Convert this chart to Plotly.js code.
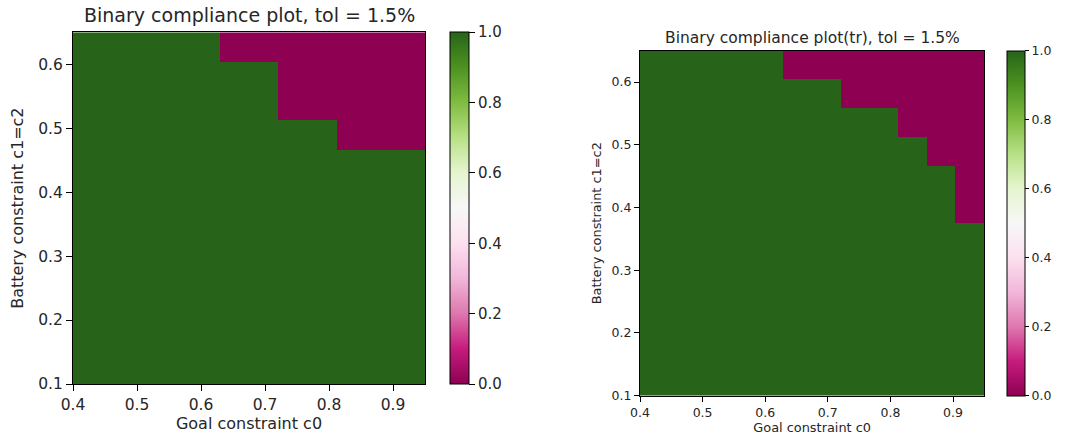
<!DOCTYPE html>
<html>
<head>
<meta charset="utf-8">
<script src="https://cdn.plot.ly/plotly-3.0.1.min.js"></script>
<style>html,body{margin:0;padding:0;background:#fff;}#chart{width:1065px;height:439px;}</style>
</head>
<body>
<div id="chart"></div>
<script>
// Cell centres of the 12 x 12 grid (goal constraint c0, battery constraint c1=c2)
const goalC0 = [0.42292, 0.46875, 0.51458, 0.56042, 0.60625, 0.65208, 0.69792, 0.74375, 0.78958, 0.83542, 0.88125, 0.92708];
const batteryC12 = [0.12292, 0.16875, 0.21458, 0.26042, 0.30625, 0.35208, 0.39792, 0.44375, 0.48958, 0.53542, 0.58125, 0.62708];

// Binary compliance (rows from bottom c1=c2=0.12 to top 0.63)
const complianceLeft = [
  [1,1,1,1,1,1,1,1,1,1,1,1],
  [1,1,1,1,1,1,1,1,1,1,1,1],
  [1,1,1,1,1,1,1,1,1,1,1,1],
  [1,1,1,1,1,1,1,1,1,1,1,1],
  [1,1,1,1,1,1,1,1,1,1,1,1],
  [1,1,1,1,1,1,1,1,1,1,1,1],
  [1,1,1,1,1,1,1,1,1,1,1,1],
  [1,1,1,1,1,1,1,1,1,1,1,1],
  [1,1,1,1,1,1,1,1,1,0,0,0],
  [1,1,1,1,1,1,1,0,0,0,0,0],
  [1,1,1,1,1,1,1,0,0,0,0,0],
  [1,1,1,1,1,0,0,0,0,0,0,0]
];
const complianceRight = [
  [1,1,1,1,1,1,1,1,1,1,1,1],
  [1,1,1,1,1,1,1,1,1,1,1,1],
  [1,1,1,1,1,1,1,1,1,1,1,1],
  [1,1,1,1,1,1,1,1,1,1,1,1],
  [1,1,1,1,1,1,1,1,1,1,1,1],
  [1,1,1,1,1,1,1,1,1,1,1,1],
  [1,1,1,1,1,1,1,1,1,1,1,0],
  [1,1,1,1,1,1,1,1,1,1,1,0],
  [1,1,1,1,1,1,1,1,1,1,0,0],
  [1,1,1,1,1,1,1,1,1,0,0,0],
  [1,1,1,1,1,1,1,0,0,0,0,0],
  [1,1,1,1,1,0,0,0,0,0,0,0]
];

const titleLeft = "Binary compliance plot, tol = 1.5%";
const titleRight = "Binary compliance plot(tr), tol = 1.5%";
const xLabel = "Goal constraint c0";
const yLabel = "Battery constraint c1=c2";
const xTicks = [0.4, 0.5, 0.6, 0.7, 0.8, 0.9];
const yTicks = [0.1, 0.2, 0.3, 0.4, 0.5, 0.6];
const cbTicks = [0.0, 0.2, 0.4, 0.6, 0.8, 1.0];

const PiYG = [
  [0.0,'#8e0152'],[0.1,'#c51b7d'],[0.2,'#de77ae'],[0.3,'#f1b6da'],[0.4,'#fde0ef'],
  [0.5,'#f7f7f7'],[0.6,'#e6f5d0'],[0.7,'#b8e186'],[0.8,'#7fbc41'],[0.9,'#4d9221'],[1.0,'#276419']
];

const W = 1065, H = 439;
const FONT = "DejaVu Sans, sans-serif";
const TXT = '#262626';
const px = v => v / W;
const py = v => 1 - v / H;

// pixel boxes
const L = {x0:73, x1:425, y0:32.3, y1:384, cbx:450, cbw:19, fs:15.5, xlfs:16, ylfs:16, cbfs:15, tfs:19, tl:6, cbtl:6,
           xso:5, yso:10, tb:28.5};
const R = {x0:640, x1:984.3, y0:50.7, y1:395.7, cbx:1007.3, cbw:17.7, fs:12.5, xlfs:12.9, ylfs:12.9, cbfs:12.5, tfs:15.5, tl:5, cbtl:4,
           xso:3, yso:7, tb:48.5};

function cbar(b){
  return {
    x: px(b.cbx), xanchor:'left', xpad:0, xref:'paper',
    y: py((b.y0+b.y1)/2), yanchor:'middle', ypad:0, yref:'paper',
    len: b.y1-b.y0, lenmode:'pixels', thickness:b.cbw, thicknessmode:'pixels',
    outlinewidth:1, outlinecolor:'#000', borderwidth:0,
    tickmode:'array', tickvals:cbTicks, ticktext:cbTicks.map(v=>v.toFixed(1)),
    ticks:'outside', ticklen:b.cbtl, tickwidth:1, tickcolor:'#000',
    tickfont:{family:FONT, size:b.cbfs, color:TXT}
  };
}

const data = [
  {type:'heatmap', x:goalC0, y:batteryC12, z:complianceLeft, zmin:0, zmax:1,
   colorscale:PiYG, xaxis:'x', yaxis:'y', hoverinfo:'skip', colorbar:cbar(L)},
  {type:'heatmap', x:goalC0, y:batteryC12, z:complianceRight, zmin:0, zmax:1,
   colorscale:PiYG, xaxis:'x2', yaxis:'y2', hoverinfo:'skip', colorbar:cbar(R)}
];

function xax(b, anchor){
  return {domain:[px(b.x0), px(b.x1)], range:[0.4,0.95], anchor:anchor,
    tickmode:'array', tickvals:xTicks, ticktext:xTicks.map(v=>v.toFixed(1)),
    ticks:'outside', ticklen:b.tl, tickwidth:1, tickcolor:'#000',
    showline:true, linecolor:'#000', linewidth:1, mirror:true, showgrid:false, zeroline:false,
    tickfont:{family:FONT, size:b.fs, color:TXT},
    title:{text:xLabel, font:{family:FONT, size:b.xlfs, color:TXT}, standoff:b.xso}};
}
function yax(b, anchor){
  return {domain:[py(b.y1), py(b.y0)], range:[0.1,0.65], anchor:anchor,
    tickmode:'array', tickvals:yTicks, ticktext:yTicks.map(v=>v.toFixed(1)),
    ticks:'outside', ticklen:b.tl, tickwidth:1, tickcolor:'#000',
    showline:true, linecolor:'#000', linewidth:1, mirror:true, showgrid:false, zeroline:false,
    tickfont:{family:FONT, size:b.fs, color:TXT},
    title:{text:yLabel, font:{family:FONT, size:b.ylfs, color:TXT}, standoff:b.yso}};
}

const layout = {
  width:W, height:H, margin:{l:0,r:0,t:0,b:0},
  paper_bgcolor:'#fff', plot_bgcolor:'#fff', showlegend:false,
  xaxis: xax(L,'y'), yaxis: yax(L,'x'),
  xaxis2: xax(R,'y2'), yaxis2: yax(R,'x2'),
  annotations:[
    {text:titleLeft, xref:'paper', yref:'paper', x:px((L.x0+L.x1)/2), y:py(L.tb),
     xanchor:'center', yanchor:'bottom', showarrow:false, font:{family:FONT, size:L.tfs, color:TXT}},
    {text:titleRight, xref:'paper', yref:'paper', x:px((R.x0+R.x1)/2), y:py(R.tb),
     xanchor:'center', yanchor:'bottom', showarrow:false, font:{family:FONT, size:R.tfs, color:TXT}}
  ]
};

Plotly.newPlot('chart', data, layout, {staticPlot:true, displayModeBar:false});
</script>
</body>
</html>
